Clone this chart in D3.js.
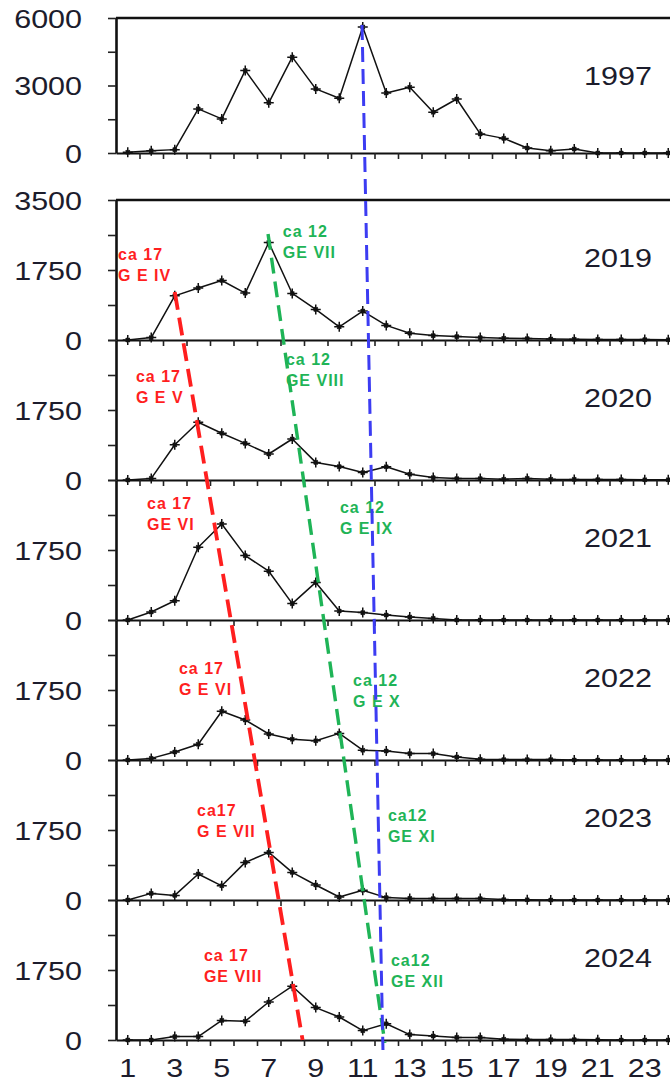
<!DOCTYPE html>
<html><head><meta charset="utf-8">
<script src="https://cdn.jsdelivr.net/npm/d3@7"></script>
<style>body{margin:0;background:#fff}svg{display:block}</style>
</head><body>
<svg id="c" width="670" height="1082"></svg>
<script>
// ---- data ----
const weeks = [1,2,3,4,5,6,7,8,9,10,11,12,13,14,15,16,17,18,19,20,21,22,23,24];
const xTickLabels = [1,3,5,7,9,11,13,15,17,19,21,23];
const years = ["1997","2019","2020","2021","2022","2023","2024"];
const values1997 = [30,100,150,1960,1515,3670,2230,4260,2850,2435,5600,2670,2925,1810,2400,850,650,220,100,180,0,0,0,0];
const values2019 = [0,60,1104,1300,1487,1172,2438,1164,765,330,722,365,170,110,85,60,45,35,25,20,15,10,10,5];
const values2020 = [0,40,880,1445,1170,915,650,1025,440,335,185,330,145,60,35,35,20,40,20,15,10,10,5,5];
const values2021 = [0,200,480,1820,2400,1610,1220,410,940,225,185,125,75,40,0,0,0,0,0,0,0,0,0,0];
const values2022 = [0,40,200,395,1220,1000,650,520,480,665,245,225,160,160,75,20,10,10,10,0,0,0,0,0];
const values2023 = [0,165,115,650,355,940,1190,690,375,75,245,60,40,35,35,35,10,5,0,0,0,0,0,0];
const values2024 = [0,0,85,85,490,470,950,1345,810,575,235,405,135,100,65,65,20,10,10,10,5,0,0,0];
const yTicks1997 = [0,1500,3000,4500,6000];
const yLabels1997 = [0,3000,6000];
const yTicksRecent = [0,875,1750,2625,3500];
const yLabelsRecent = [0,1750];
const yLabelsFirstRecent = [0,1750,3500];
const cohortLabels = [
  {yr:"2019", group:"red",   x:0.59, v:2150, lines:["ca 17","G E IV"]},
  {yr:"2019", group:"green", x:7.6,  v:2725, lines:["ca 12","GE VII"]},
  {yr:"2020", group:"red",   x:1.35, v:2600, lines:["ca 17","G E V"]},
  {yr:"2020", group:"green", x:7.73, v:3025, lines:["ca 12","GE VIII"]},
  {yr:"2021", group:"red",   x:1.82, v:2925, lines:["ca 17","GE VI"]},
  {yr:"2021", group:"green", x:10.03,v:2825, lines:["ca 12","G E IX"]},
  {yr:"2022", group:"red",   x:3.18, v:2300, lines:["ca 17","G E VI"]},
  {yr:"2022", group:"green", x:10.59,v:2000, lines:["ca 12","G E X"]},
  {yr:"2023", group:"red",   x:3.95, v:2250, lines:["ca17","G E VII"]},
  {yr:"2023", group:"green", x:12.07,v:2125, lines:["ca12","GE XI"]},
  {yr:"2024", group:"red",   x:4.24, v:2125, lines:["ca 17","GE VIII"]},
  {yr:"2024", group:"green", x:12.2, v:2000, lines:["ca12","GE XII"]}
];
const trendLines = [
  {group:"red",   from:{yr:"2019", x:3.0,  v:1200}, to:{yr:"2024", x:8.44, v:0}},
  {group:"green", from:{yr:"2019", x:6.97, v:2650}, to:{yr:"2024", x:11.94, v:-75}},
  {group:"blue",  from:{yr:"1997", x:10.97,v:5690}, to:{yr:"2024", x:11.86, v:-250}}
];

// ---- styles ----
const colors = {red:"#ff1f1f", green:"#1fb457", blue:"#3c3cf2"};
const dashes = {red:"18,8", green:"16,8", blue:"15,7"};
const widths = {red:3.8, green:3.4, blue:3};
const series = {"1997":values1997,"2019":values2019,"2020":values2020,"2021":values2021,"2022":values2022,"2023":values2023,"2024":values2024};

const svg = d3.select("#c");
const x = d3.scaleLinear().domain([0.5,24.5]).range([116,680]);
const panels = years.map((yr,i)=>{
  const p = i===0 ? {yr, top:18, bottom:153, max:6000, ticks:yTicks1997, labels:yLabels1997}
                  : {yr, top:200+140*(i-1), bottom:340+140*(i-1), max:3500, ticks:yTicksRecent,
                     labels: i===1 ? yLabelsFirstRecent : yLabelsRecent};
  p.y = d3.scaleLinear().domain([0,p.max]).range([p.bottom,p.top]);
  return p;
});
const byYear = Object.fromEntries(panels.map(p=>[p.yr,p]));
const SX = 1.22;
const FONT = "'Liberation Sans', Arial, sans-serif";

function stretchedText(g, px, py, str, anchor, size, fill){
  g.append("text")
    .attr("transform",`translate(${px},${py}) scale(${SX},1)`)
    .attr("text-anchor",anchor).attr("dominant-baseline","central")
    .attr("font-family",FONT).attr("font-size",size).attr("fill",fill)
    .text(str);
}

panels.forEach((p,i)=>{
  const g = svg.append("g");
  if(i<=1){
    g.append("line").attr("x1",x.range()[0]).attr("x2",x.range()[1])
      .attr("y1",p.y(p.max)).attr("y2",p.y(p.max)).attr("stroke","#111").attr("stroke-width",2.5);
  }
  const xa = d3.axisBottom(x).tickValues(weeks.map(w=>w+0.5)).tickSize(6).tickSizeOuter(0).tickFormat("");
  const gx = g.append("g").attr("transform",`translate(0,${p.bottom})`).call(xa);
  gx.select(".domain").attr("stroke","#111").attr("stroke-width",2.2);
  gx.selectAll(".tick line").attr("stroke","#222").attr("stroke-width",1.6);
  const ya = d3.axisLeft(p.y).tickValues(p.ticks).tickSize(8).tickSizeOuter(0).tickFormat("");
  const gy = g.append("g").attr("transform",`translate(${x.range()[0]},0)`).call(ya);
  gy.select(".domain").attr("stroke","#111").attr("stroke-width",2.6);
  gy.selectAll(".tick line").attr("stroke","#222").attr("stroke-width",1.6);
  p.labels.forEach(v=> stretchedText(g, 82, p.y(v)+1, String(v), "end", 25, "#1c1c2c"));
  const vals = series[p.yr];
  const line = d3.line().x((d,k)=>x(weeks[k])).y(d=>p.y(d));
  g.append("path").datum(vals).attr("d",line).attr("fill","none")
    .attr("stroke","#111").attr("stroke-width",1.5).attr("stroke-linejoin","round");
  g.selectAll(".mk").data(vals).join("path").attr("class","mk")
    .attr("transform",(d,k)=>`translate(${x(weeks[k])},${p.y(d)})`)
    .attr("d","M-5,0H5M0,-5V5M-2,-2L2,2M-2,2L2,-2")
    .attr("stroke","#111").attr("stroke-width",1.5).attr("fill","none");
  const yv = i===0 ? 3420 : 2030;
  stretchedText(g, x(21.86), p.y(yv), p.yr, "middle", 25, "#1c1c2c");
});

const last = panels[panels.length-1];
xTickLabels.forEach(t=> stretchedText(svg, x(t), last.bottom+28, String(t), "middle", 25, "#1c1c2c"));

cohortLabels.forEach(c=>{
  const p = byYear[c.yr];
  c.lines.forEach((ln,j)=>{
    svg.append("text")
      .attr("x",x(c.x)).attr("y",p.y(c.v)+j*21)
      .attr("dominant-baseline","central")
      .attr("font-family","'Liberation Sans Narrow','Arial Narrow','Liberation Sans',sans-serif")
      .attr("font-weight","bold").attr("font-size",16).attr("letter-spacing","1px")
      .attr("fill",colors[c.group]).text(ln);
  });
});

trendLines.forEach(t=>{
  const a = byYear[t.from.yr], b = byYear[t.to.yr];
  svg.append("line")
    .attr("x1",x(t.from.x)).attr("y1",a.y(t.from.v))
    .attr("x2",x(t.to.x)).attr("y2",b.y(t.to.v))
    .attr("stroke",colors[t.group]).attr("stroke-width",widths[t.group])
    .attr("stroke-dasharray",dashes[t.group]);
});
</script>
</body></html>
